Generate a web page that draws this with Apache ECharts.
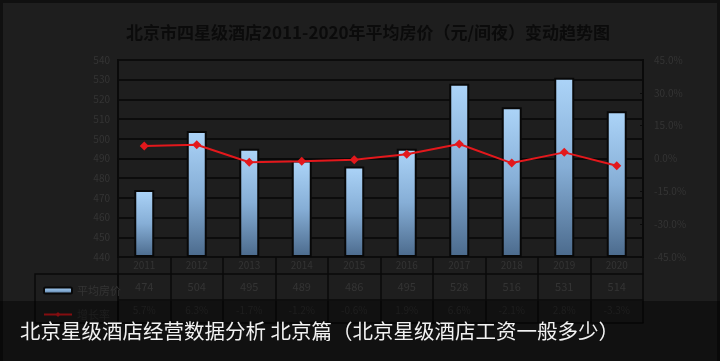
<!DOCTYPE html>
<html><head><meta charset="utf-8">
<script src="https://cdn.jsdelivr.net/npm/echarts@6/dist/echarts.min.js"></script>
<style>html,body{margin:0;padding:0;background:#101010;}#c{width:720px;height:361px;}</style>
</head><body><div id="c"></div>
<script>
const years = ['2011','2012','2013','2014','2015','2016','2017','2018','2019','2020'];
const avgPrice = [474, 504, 495, 489, 486, 495, 528, 516, 531, 514];
const growth = [5.7, 6.3, -1.7, -1.2, -0.6, 1.9, 6.6, -2.1, 2.8, -3.3];
const priceLabels = avgPrice.map(String);
const growthLabels = growth.map(v => v.toFixed(1) + '%');
const titleText = '北京市四星级酒店2011-2020年平均房价（元/间夜）变动趋势图';
const captionText = '北京星级酒店经营数据分析 北京篇（北京星级酒店工资一般多少）';

const FONT = '"Noto Sans CJK SC", "Noto Sans", sans-serif';
const dim = '#343434';
const chart = echarts.init(document.getElementById('c'));
chart.setOption({
  backgroundColor: '#101010',
  textStyle: { fontFamily: FONT },
  animation: false,
  title: {
    text: titleText, left: 121, top: 19,
    textStyle: { color: '#0b0b0b', fontSize: 17, fontWeight: 'bold', fontFamily: FONT }
  },
  legend: {
    orient: 'vertical', left: 38, top: 280, itemWidth: 28, itemHeight: 6, itemGap: 13,
    textStyle: { color: dim, fontSize: 11 },
    data: ['平均房价', '增长率']
  },
  grid: {
    left: 118, right: 77, top: 60, bottom: 104,
    show: true, borderColor: '#0a0a0a', borderWidth: 2, backgroundColor: '#1e1e1e'
  },
  xAxis: [
    { type: 'category', data: years, position: 'bottom',
      axisLine: { lineStyle: { color: '#0a0a0a', width: 2 } },
      axisTick: { show: false },
      axisLabel: { color: dim, fontSize: 10, margin: 3 } },
    { type: 'category', data: priceLabels, position: 'bottom', offset: 17,
      axisLine: { lineStyle: { color: '#0a0a0a', width: 1.5 } }, axisTick: { show: false },
      axisLabel: { color: dim, fontSize: 11, margin: 7 } },
    { type: 'category', data: growthLabels, position: 'bottom', offset: 43,
      axisLine: { lineStyle: { color: '#0a0a0a', width: 1.5 } }, axisTick: { show: false },
      axisLabel: { color: dim, fontSize: 10, margin: 5 } },
    { type: 'category', data: years, position: 'bottom', offset: 66,
      axisLine: { lineStyle: { color: '#0a0a0a', width: 1.5 } },
      axisTick: { show: true, inside: true, length: 66, lineStyle: { color: '#0a0a0a', width: 1.5 } },
      axisLabel: { show: false } }
  ],
  yAxis: [
    { type: 'value', min: 440, max: 540, interval: 10, startValue: 440,
      axisLine: { show: true, lineStyle: { color: '#0a0a0a', width: 2 } },
      axisTick: { show: false },
      axisLabel: { color: dim, fontSize: 10, margin: 8 },
      splitLine: { lineStyle: { color: '#0c0c0c', width: 2 } } },
    { type: 'value', min: -45, max: 45, interval: 15, position: 'right',
      axisLine: { show: true, lineStyle: { color: '#0a0a0a', width: 2 } },
      axisTick: { show: true, inside: true, length: 3, lineStyle: { color: '#0a0a0a' } },
      axisLabel: { color: dim, fontSize: 10, margin: 11, formatter: v => v.toFixed(1) + '%' },
      splitLine: { show: false } }
  ],
  series: [
    { name: '平均房价', type: 'bar', data: avgPrice, barWidth: 20, xAxisIndex: 0, yAxisIndex: 0,
      itemStyle: {
        color: new echarts.graphic.LinearGradient(0, 0, 0, 1, [
          { offset: 0, color: '#acd4f8' }, { offset: 0.5, color: '#86aed6' }, { offset: 1, color: '#4b6a8c' }
        ]),
        borderColor: '#080808', borderWidth: 2
      } },
    { name: '增长率', type: 'line', data: growth, xAxisIndex: 0, yAxisIndex: 1,
      symbol: 'diamond', symbolSize: 9,
      lineStyle: { color: '#e3181c', width: 2 },
      itemStyle: { color: '#e3181c' } }
  ],
  graphic: [
    { type: 'rect', shape: { x: 3, y: 3, width: 714, height: 358 }, style: { fill: '#1e1e1e' }, z: -10, silent: true },
    { type: 'rect', shape: { x: 35, y: 274, width: 83, height: 49 }, style: { fill: 'none', stroke: '#0a0a0a', lineWidth: 1.5 }, z: 1, silent: true },
    { type: 'rect', shape: { x: 0, y: 301, width: 720, height: 60 }, style: { fill: 'rgba(0,0,0,0.42)' }, z: 100, silent: true },
    { type: 'text', x: 20, y: 331, z: 101, silent: true,
      style: { text: captionText, fill: '#f2f2f2', fontSize: 20.5, fontFamily: FONT, textVerticalAlign: 'middle' } }
  ]
});
</script></body></html>
